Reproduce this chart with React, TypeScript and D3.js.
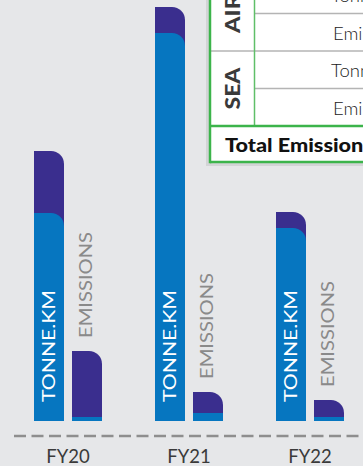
import React from "react";
import * as d3 from "d3";

const years = ["FY20", "FY21", "FY22"];
const tonneSea = [208, 388, 193];
const tonneAir = [62, 26, 16];
const emisSea = [4, 8, 4];
const emisAir = [66, 21, 17];
const seriesKeys = ["tonne", "emis"];
const seriesLabels = ["TONNE.KM", "EMISSIONS"];
const tableModes = ["AIR", "SEA"];
const tableMetrics = ["Tonne.km", "Emissions"];
const totalLabel = "Total Emissions";

const W = 363;
const H = 466;
const BLUE = "#0676c0";
const PURPLE = "#3a2e8e";
const GREEN = "#3cb44b";
const BG = "#e6e7e9";
const FONT = "Lato, 'Open Sans', sans-serif";

function topRight(x: number, y: number, w: number, h: number, r: number) {
  const rr = Math.max(0, Math.min(r, h, w));
  return `M${x},${y + h}V${y}H${x + w - rr}A${rr},${rr} 0 0 1 ${x + w},${y + rr}V${y + h}Z`;
}

export default function App() {
  const baseY = 421;
  const y = d3.scaleLinear().domain([0, 414]).range([baseY, 7]);
  const x = d3.scaleBand().domain(years).range([34, 344]).paddingInner(53 / 121).paddingOuter(0);
  const xs = d3.scaleBand().domain(seriesKeys).range([0, x.bandwidth()]).paddingInner(8 / 38).paddingOuter(0);
  const bw = xs.bandwidth();
  const r = 13;

  // table geometry
  const tLeft = 210;
  const tDiv = 254.5;
  const totalTop = 126;
  const tBottom = 162;
  const rowH = 37.5;
  const rows: { mode: string; metric: string; top: number; mi: number; ri: number }[] = [];
  tableModes.forEach((m, mi) => {
    tableMetrics.forEach((met, ri) => {
      const idx = mi * 2 + ri;
      const top = totalTop - (4 - idx) * rowH;
      rows.push({ mode: m, metric: met, top, mi, ri });
    });
  });

  return (
    <svg width={W} height={H} style={{ position: "fixed", left: 0, top: 0, display: "block" }}>
      <rect x={0} y={0} width={W} height={H} fill={BG} />

      {/* baseline */}
      <line x1={14} x2={W} y1={436} y2={436} stroke="#8e8e8e" strokeWidth={2.5} strokeDasharray="12 5.5" />

      {years.map((yr, i) => {
        const gx = x(yr)!;
        const tx = gx + xs("tonne")!;
        const ex = gx + xs("emis")!;
        const tTot = tonneSea[i] + tonneAir[i];
        const eTot = emisSea[i] + emisAir[i];
        const tTop = y(tTot);
        const tSeaTop = y(tonneSea[i]);
        const eTop = y(eTot);
        const eSeaTop = y(emisSea[i]);
        return (
          <g key={yr}>
            <path d={topRight(tx, tTop, bw, baseY - tTop, r)} fill={PURPLE} />
            <path d={topRight(tx, tSeaTop, bw, baseY - tSeaTop, r)} fill={BLUE} />
            <path d={topRight(ex, eTop, bw, baseY - eTop, r)} fill={PURPLE} />
            <rect x={ex} y={eSeaTop} width={bw} height={baseY - eSeaTop} fill={BLUE} />
            <text
              transform={`translate(${tx + bw / 2},${baseY - 19}) rotate(-90)`}
              dy="0.36em"
              fill="#ffffff"
              fontFamily={FONT}
              fontSize={17}
              textLength={112}
              lengthAdjust="spacingAndGlyphs"
            >
              {seriesLabels[0]}
            </text>
            <text
              transform={`translate(${ex + bw / 2 - 1.5},${eTop - 13}) rotate(-90)`}
              dy="0.36em"
              fill="#8a8a8a"
              fontFamily={FONT}
              fontSize={17}
              textLength={106}
              lengthAdjust="spacingAndGlyphs"
            >
              {seriesLabels[1]}
            </text>
            <text
              x={gx + x.bandwidth() / 2}
              y={463}
              textAnchor="middle"
              fill="#3a3a3a"
              fontFamily={FONT}
              fontSize={18.5}
            >
              {yr}
            </text>
          </g>
        );
      })}

      {/* table */}
      <rect x={tLeft - 4} y={-10} width={W} height={tBottom + 14} fill="#d3d4d6" />
      <rect x={tLeft} y={-10} width={W} height={tBottom + 10} fill="#ffffff" />
      {rows.map((row, k) => (
        <g key={k}>
          {row.ri === 1 ? (
            <line x1={tDiv} x2={W} y1={row.top} y2={row.top} stroke="#b4b4b4" strokeWidth={1.5} />
          ) : (
            <line x1={tLeft} x2={W} y1={row.top} y2={row.top} stroke="#b4b4b4" strokeWidth={1.5} />
          )}
          <text
            x={row.metric === "Emissions" ? 333 : 331}
            y={row.top + rowH / 2 + 7.5}
            fill="#222"
            fontFamily={FONT}
            fontWeight={300}
            fontSize={18.5}
          >
            {row.metric}
          </text>
        </g>
      ))}
      {tableModes.map((m, mi) => {
        const top = totalTop - (4 - mi * 2) * rowH;
        const cy = top + rowH;
        return (
          <text
            key={m}
            transform={`translate(${(tLeft + tDiv) / 2},${cy}) rotate(-90)`}
            dy="0.36em"
            textAnchor="middle"
            fill="#3a3a3a"
            fontFamily={FONT}
            fontWeight={900}
            fontSize={21}
            textLength={m === "SEA" ? 42 : 39}
            lengthAdjust="spacingAndGlyphs"
          >
            {m}
          </text>
        );
      })}
      <line x1={tDiv} x2={tDiv} y1={-10} y2={totalTop} stroke="#5fbf68" strokeWidth={1.5} />
      <line x1={tLeft} x2={W} y1={totalTop} y2={totalTop} stroke={GREEN} strokeWidth={2.5} />
      <line x1={tLeft} x2={W} y1={tBottom} y2={tBottom} stroke={GREEN} strokeWidth={2.5} />
      <line x1={tLeft} x2={tLeft} y1={-10} y2={tBottom + 1.25} stroke={GREEN} strokeWidth={2.5} />
      <text
        x={225}
        y={152}
        fill="#111"
        fontFamily={FONT}
        fontWeight={900}
        fontSize={18.5}
        textLength={148}
        lengthAdjust="spacingAndGlyphs"
      >
        {totalLabel}
      </text>
    </svg>
  );
}
